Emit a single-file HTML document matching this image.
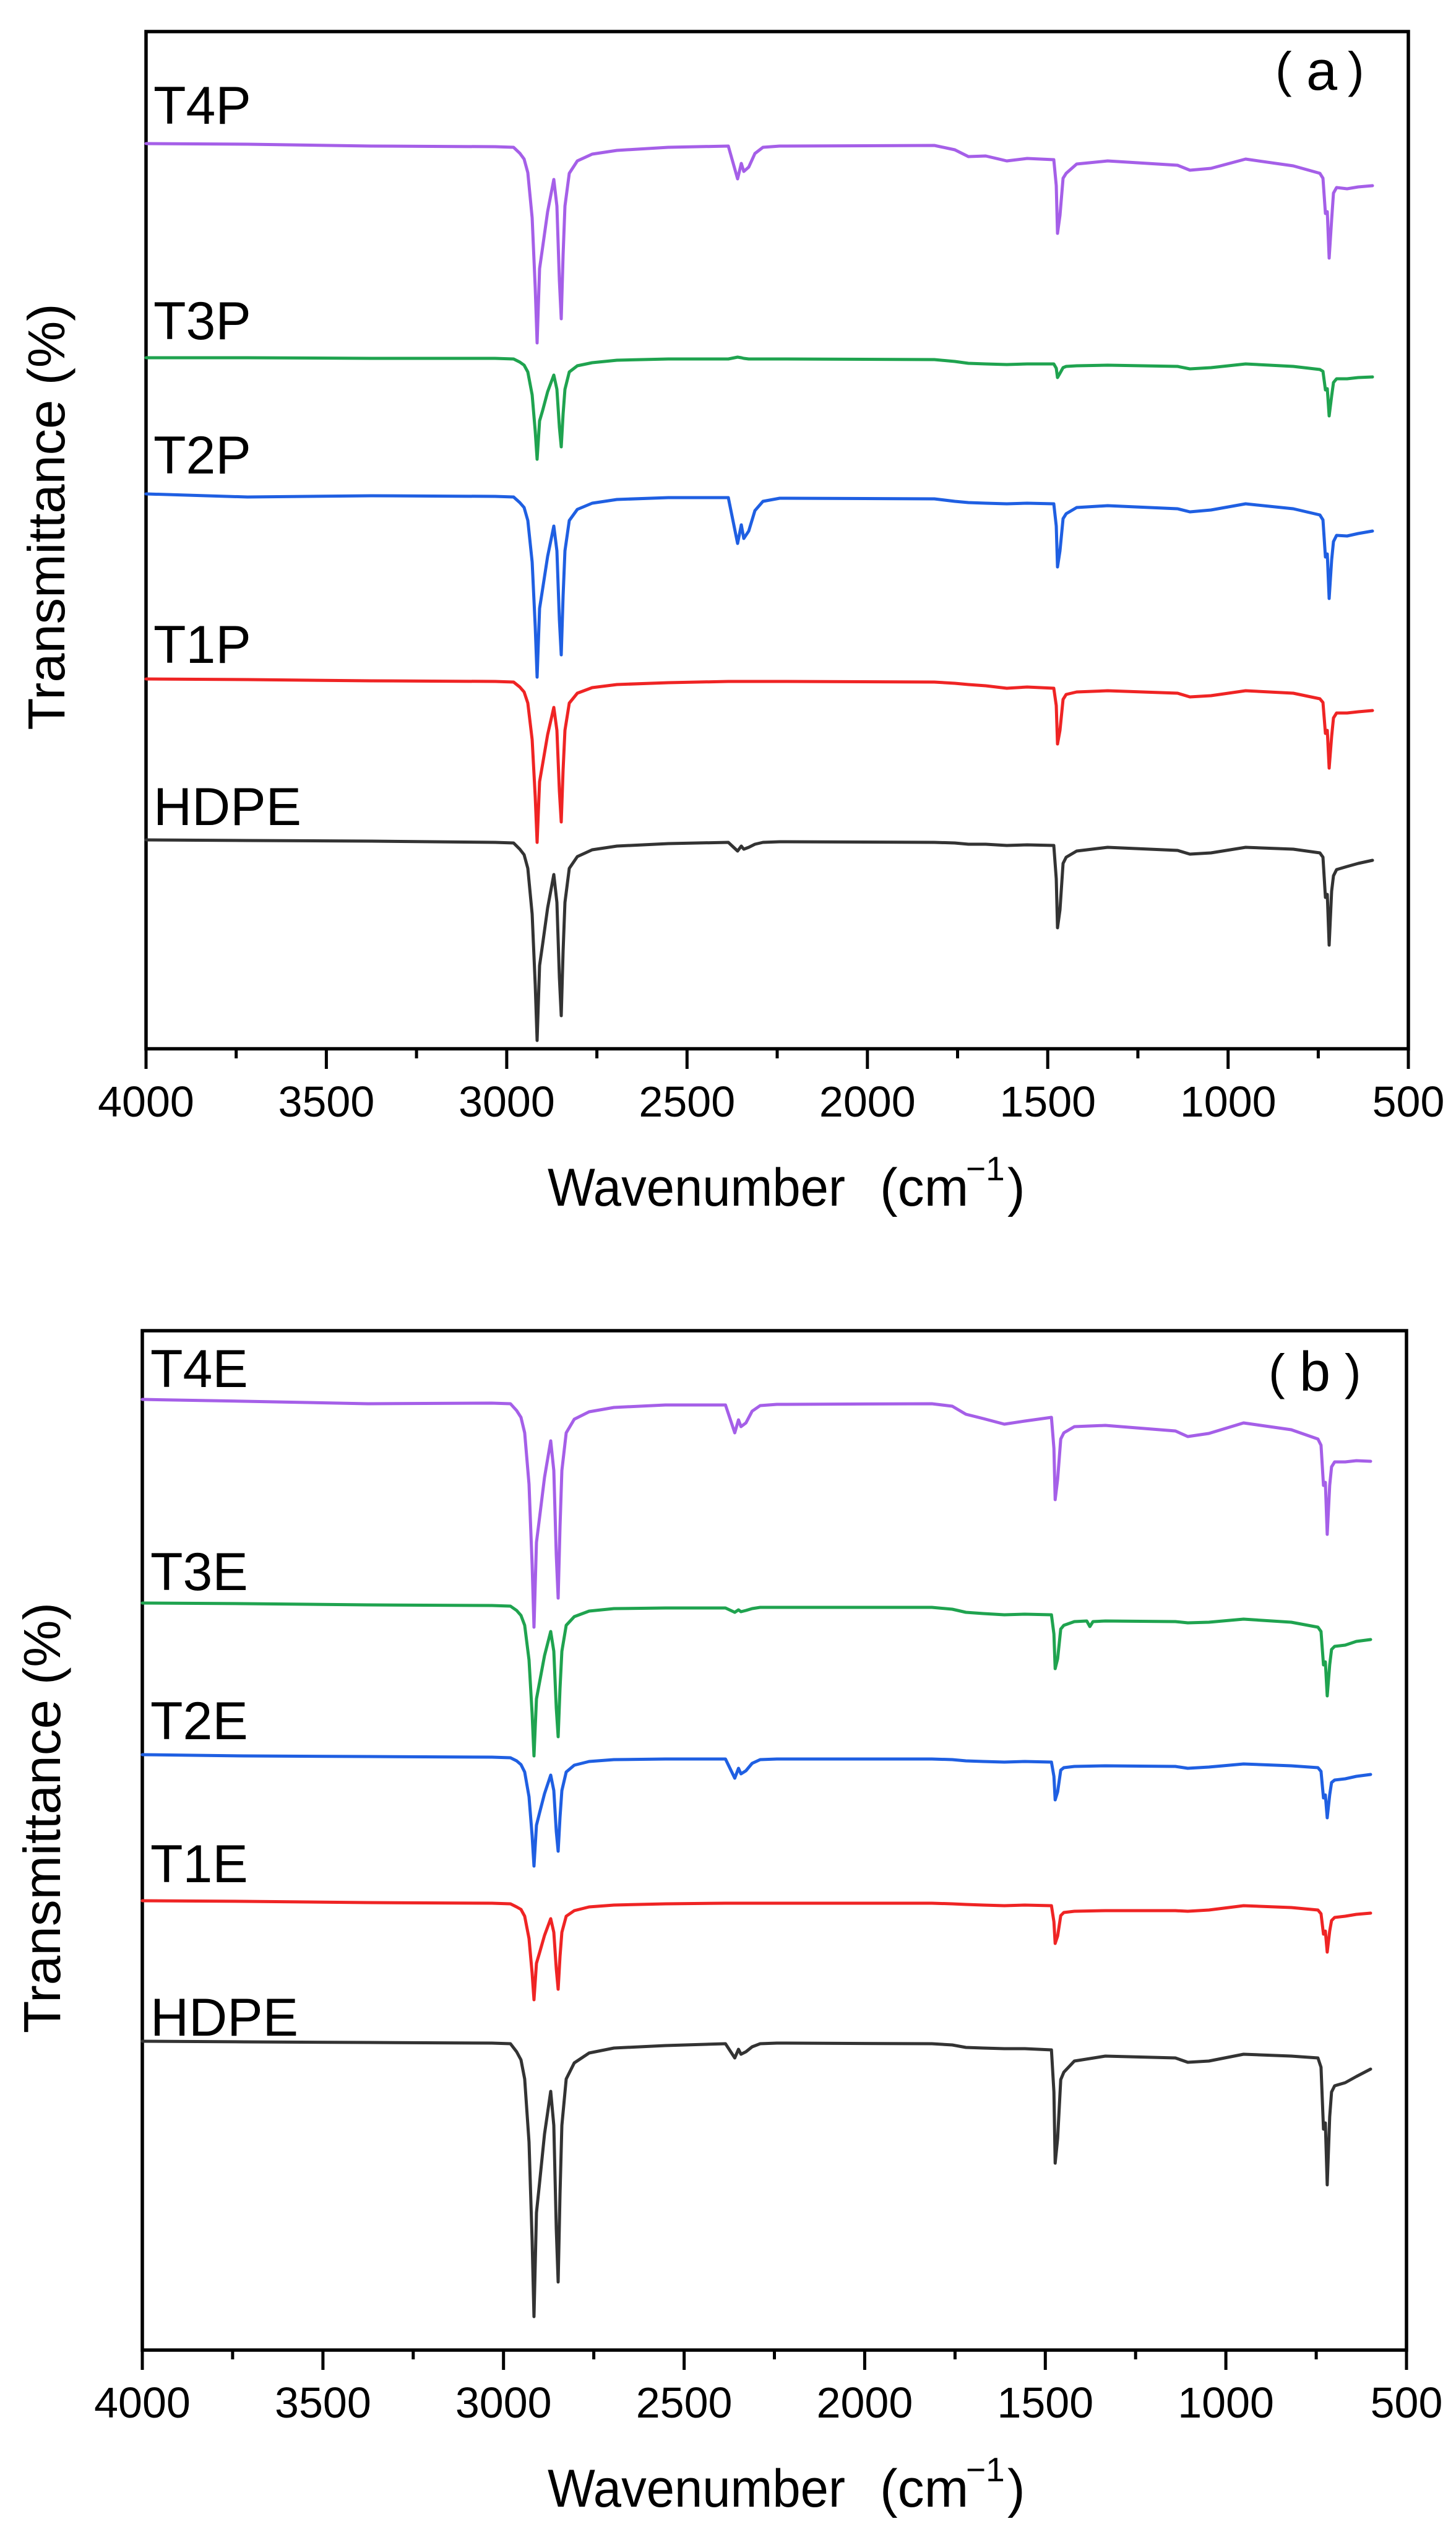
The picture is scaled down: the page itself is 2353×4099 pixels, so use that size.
<!DOCTYPE html>
<html>
<head>
<meta charset="utf-8">
<style>
html,body{margin:0;padding:0;background:#fff;}
svg{display:block;}
text{font-family:"Liberation Sans",Arial,sans-serif;fill:#000;}
.c{fill:none;stroke-width:5;stroke-linejoin:round;stroke-linecap:round;}
.ax{fill:none;stroke:#000;stroke-width:5.5;}
.tk{stroke:#000;stroke-width:5;}
.tl{font-size:70px;text-anchor:middle;}
.lb{font-size:86px;}
</style>
</head>
<body>
<svg width="2353" height="4099" viewBox="0 0 2353 4099" xmlns="http://www.w3.org/2000/svg">
<rect x="0" y="0" width="2353" height="4099" fill="#fff"/>

<!-- ================= PANEL A ================= -->
<rect class="ax" x="236" y="51" width="2040" height="1643.5"/>
<g class="tk">
<line x1="236" y1="1694" x2="236" y2="1727"/>
<line x1="527.4" y1="1694" x2="527.4" y2="1727"/>
<line x1="818.9" y1="1694" x2="818.9" y2="1727"/>
<line x1="1110.3" y1="1694" x2="1110.3" y2="1727"/>
<line x1="1401.8" y1="1694" x2="1401.8" y2="1727"/>
<line x1="1693.2" y1="1694" x2="1693.2" y2="1727"/>
<line x1="1984.7" y1="1694" x2="1984.7" y2="1727"/>
<line x1="2276" y1="1694" x2="2276" y2="1727"/>
<line x1="381.7" y1="1694" x2="381.7" y2="1710"/>
<line x1="673.1" y1="1694" x2="673.1" y2="1710"/>
<line x1="964.6" y1="1694" x2="964.6" y2="1710"/>
<line x1="1256" y1="1694" x2="1256" y2="1710"/>
<line x1="1547.5" y1="1694" x2="1547.5" y2="1710"/>
<line x1="1838.9" y1="1694" x2="1838.9" y2="1710"/>
<line x1="2130.4" y1="1694" x2="2130.4" y2="1710"/>
</g>
<text class="tl" x="236" y="1804">4000</text>
<text class="tl" x="527.4" y="1804">3500</text>
<text class="tl" x="818.9" y="1804">3000</text>
<text class="tl" x="1110.3" y="1804">2500</text>
<text class="tl" x="1401.8" y="1804">2000</text>
<text class="tl" x="1693.2" y="1804">1500</text>
<text class="tl" x="1984.7" y="1804">1000</text>
<text class="tl" x="2276" y="1804">500</text>

<text x="885" y="1948" font-size="86" textLength="481" lengthAdjust="spacingAndGlyphs">Wavenumber</text>
<text x="1422" y="1948" font-size="86">(cm</text>
<text x="1561" y="1907" font-size="55">−1</text>
<text x="1628" y="1948" font-size="86">)</text>

<text transform="translate(104,835) rotate(-90)" text-anchor="middle" font-size="84" textLength="689" lengthAdjust="spacingAndGlyphs">Transmittance (%)</text>

<text x="2061" y="140" font-size="80">(</text>
<text x="2111" y="145" font-size="90">a</text>
<text x="2178" y="140" font-size="80">)</text>

<text class="lb" x="248" y="200">T4P</text>
<text class="lb" x="248" y="548">T3P</text>
<text class="lb" x="248" y="765">T2P</text>
<text class="lb" x="248" y="1071">T1P</text>
<text class="lb" x="248" y="1333">HDPE</text>

<path class="c" stroke="#a55fe8" d="M236,232 L400,233 600,236 800,237 830,238 840,247.5 847,257 853,279 860,352 865,466 868,554 872,434 877,399 885,342 895,290 900,333 904,453 907,515 910,412 913,333 920,280 933,260 957,249 997,243 1080,238 1177,236 1192,289 1198,264 1202,277 1210,270 1220,248 1233,238 1260,236 1510,235 1543,242 1565,253 1593,252 1627,260 1660,256 1703,258 1707,300 1709,377 1713,348 1718,288 1723,280 1740,265 1790,260 1903,267 1923,275 1957,272 2013,257 2090,268 2133,280 2138,288 2142,345 2145,342 2148,417 2152,355 2155,312 2160,303 2177,305 2195,302 2218,300"/>

<path class="c" stroke="#1fa34f" d="M236,578 L400,578 600,579 800,579 830,580 840,585 847,590 853,601 860,638 865,697 868,742 872,680 877,663 885,633 895,606 900,629 904,690 907,722 910,669 913,629 920,601 933,591 957,586 997,582 1080,580 1177,580 1192,577 1198,578 1202,579 1210,580 1220,580 1233,580 1260,580 1510,581 1543,584 1565,587 1593,588 1627,589 1660,588 1703,588 1707,595 1709,610 1713,603 1718,594 1723,592 1740,591 1790,590 1903,592 1923,596 1957,594 2013,588 2090,592 2133,597 2138,600 2142,630 2145,628 2148,672 2152,640 2155,618 2160,612 2177,612 2195,610 2218,609"/>

<path class="c" stroke="#1f5fe2" d="M236,798 L400,803 600,801 800,802 830,803 840,812 847,820 853,841 860,908 865,1013 868,1094 872,983 877,951 885,899 895,850 900,890 904,1001 907,1058 910,963 913,890 920,841 933,823 957,813 997,807 1080,804 1177,804 1192,878 1198,848 1202,870 1210,858 1220,825 1233,810 1260,805 1510,806 1543,810 1565,812 1593,813 1627,814 1660,813 1703,814 1707,850 1709,916 1713,890 1718,838 1723,830 1740,820 1790,817 1903,822 1923,827 1957,824 2013,814 2090,822 2133,832 2138,840 2142,900 2145,895 2148,967 2152,905 2155,875 2160,865 2177,866 2195,862 2218,858"/>

<path class="c" stroke="#ef2424" d="M236,1097 L400,1098 600,1100 800,1101 830,1102 840,1110 847,1118 853,1136 860,1195 865,1288 868,1361 872,1263 877,1234 885,1187 895,1143 900,1180 904,1278 907,1328 910,1244 913,1180 920,1136 933,1120 957,1111 997,1106 1080,1103 1177,1101 1260,1101 1510,1102 1543,1104 1565,1106 1593,1108 1627,1112 1660,1110 1703,1112 1707,1140 1709,1202 1713,1180 1718,1130 1723,1122 1740,1118 1790,1116 1903,1120 1923,1126 1957,1124 2013,1116 2090,1120 2133,1129 2138,1135 2142,1185 2145,1180 2148,1241 2152,1190 2155,1160 2160,1152 2177,1152 2195,1150 2218,1148"/>

<path class="c" stroke="#333333" d="M236,1357 L400,1358 600,1359 800,1361 830,1362 840,1372 847,1381 853,1403 860,1477 865,1592 868,1681 872,1560 877,1525 885,1467 895,1413 900,1458 904,1579 907,1641 910,1537 913,1458 920,1403 933,1384 957,1373 997,1367 1080,1363 1177,1361 1192,1375 1198,1367 1202,1372 1210,1369 1220,1364 1233,1361 1260,1360 1510,1361 1543,1362 1565,1364 1593,1364 1627,1366 1660,1365 1703,1366 1707,1420 1709,1499 1713,1470 1718,1395 1723,1385 1740,1375 1790,1369 1903,1374 1923,1380 1957,1378 2013,1369 2090,1372 2133,1378 2138,1385 2142,1450 2145,1445 2148,1527 2152,1440 2155,1415 2160,1405 2177,1400 2195,1395 2218,1390"/>

<!-- ================= PANEL B ================= -->
<rect class="ax" x="230" y="2150" width="2043" height="1647"/>
<g class="tk">
<line x1="230" y1="3797" x2="230" y2="3829"/>
<line x1="521.9" y1="3797" x2="521.9" y2="3829"/>
<line x1="813.7" y1="3797" x2="813.7" y2="3829"/>
<line x1="1105.6" y1="3797" x2="1105.6" y2="3829"/>
<line x1="1397.4" y1="3797" x2="1397.4" y2="3829"/>
<line x1="1689.3" y1="3797" x2="1689.3" y2="3829"/>
<line x1="1981.1" y1="3797" x2="1981.1" y2="3829"/>
<line x1="2273" y1="3797" x2="2273" y2="3829"/>
<line x1="375.9" y1="3797" x2="375.9" y2="3812"/>
<line x1="667.8" y1="3797" x2="667.8" y2="3812"/>
<line x1="959.6" y1="3797" x2="959.6" y2="3812"/>
<line x1="1251.5" y1="3797" x2="1251.5" y2="3812"/>
<line x1="1543.4" y1="3797" x2="1543.4" y2="3812"/>
<line x1="1835.2" y1="3797" x2="1835.2" y2="3812"/>
<line x1="2127.1" y1="3797" x2="2127.1" y2="3812"/>
</g>
<text class="tl" x="230" y="3906">4000</text>
<text class="tl" x="521.9" y="3906">3500</text>
<text class="tl" x="813.7" y="3906">3000</text>
<text class="tl" x="1105.6" y="3906">2500</text>
<text class="tl" x="1397.4" y="3906">2000</text>
<text class="tl" x="1689.3" y="3906">1500</text>
<text class="tl" x="1981.1" y="3906">1000</text>
<text class="tl" x="2273" y="3906">500</text>

<text x="885" y="4050" font-size="86" textLength="481" lengthAdjust="spacingAndGlyphs">Wavenumber</text>
<text x="1422" y="4050" font-size="86">(cm</text>
<text x="1561" y="4009" font-size="55">−1</text>
<text x="1628" y="4050" font-size="86">)</text>

<text transform="translate(97,2937) rotate(-90)" text-anchor="middle" font-size="84" textLength="696" lengthAdjust="spacingAndGlyphs">Transmittance (%)</text>

<text x="2050" y="2244" font-size="80">(</text>
<text x="2100" y="2247" font-size="90">b</text>
<text x="2173" y="2244" font-size="80">)</text>

<text class="lb" x="243" y="2241">T4E</text>
<text class="lb" x="243" y="2569">T3E</text>
<text class="lb" x="243" y="2810">T2E</text>
<text class="lb" x="243" y="3041">T1E</text>
<text class="lb" x="243" y="3289">HDPE</text>

<g transform="matrix(1.0015 0 0 1 -6.35 0)">
<path class="c" stroke="#a55fe8" d="M236,2261 L400,2264 600,2268 800,2267 830,2268 840,2279 847,2290 853,2315 860,2398 865,2528 868,2629 872,2492 877,2452 885,2387 895,2328 900,2376 904,2513 907,2582 910,2467 913,2376 920,2315 933,2293 957,2281 997,2274 1080,2270 1177,2270 1192,2315 1198,2294 1202,2305 1210,2299 1220,2280 1233,2271 1260,2269 1510,2268 1543,2272 1565,2285 1593,2292 1627,2301 1660,2296 1703,2290 1707,2340 1709,2423 1713,2390 1718,2325 1723,2315 1740,2305 1790,2303 1903,2312 1923,2321 1957,2316 2013,2299 2090,2310 2133,2325 2138,2335 2142,2400 2145,2395 2148,2479 2152,2400 2155,2370 2160,2362 2177,2362 2195,2360 2218,2361"/>

<path class="c" stroke="#1fa34f" d="M236,2590 L400,2591 600,2593 800,2594 830,2595 840,2602 847,2610 853,2626 860,2682 865,2769 868,2837 872,2745 877,2718 885,2675 895,2636 900,2668 904,2760 907,2806 910,2728 913,2668 920,2626 933,2612 957,2603 997,2599 1080,2598 1177,2598 1192,2605 1198,2601 1202,2604 1210,2602 1220,2599 1233,2597 1260,2597 1510,2597 1543,2600 1565,2605 1593,2607 1627,2609 1660,2608 1703,2609 1707,2640 1709,2696 1713,2680 1718,2632 1723,2626 1740,2620 1760,2619 1765,2628 1770,2620 1790,2619 1903,2620 1923,2622 1957,2621 2013,2616 2090,2621 2133,2629 2138,2636 2142,2690 2145,2685 2148,2740 2152,2690 2155,2665 2160,2660 2177,2658 2195,2652 2218,2649"/>

<path class="c" stroke="#1f5fe2" d="M236,2835 L400,2837 600,2838 800,2839 830,2840 840,2845 847,2851 853,2863 860,2903 865,2966 868,3015 872,2949 877,2929 885,2898 895,2868 900,2893 904,2959 907,2991 910,2936 913,2893 920,2863 933,2852 957,2846 997,2843 1080,2842 1177,2842 1192,2873 1198,2857 1202,2866 1210,2861 1220,2849 1233,2843 1260,2842 1510,2842 1543,2843 1565,2845 1593,2846 1627,2847 1660,2846 1703,2847 1707,2870 1709,2908 1713,2895 1718,2860 1723,2856 1740,2854 1790,2853 1903,2854 1923,2857 1957,2855 2013,2850 2090,2853 2133,2856 2138,2862 2142,2905 2145,2900 2148,2937 2152,2900 2155,2880 2160,2876 2177,2874 2195,2870 2218,2867"/>

<path class="c" stroke="#ef2424" d="M236,3071 L400,3072 600,3074 800,3075 830,3076 840,3081 847,3085 853,3096 860,3132 865,3188 868,3231 872,3172 877,3155 885,3127 895,3100 900,3122 904,3181 907,3214 910,3161 913,3122 920,3096 933,3087 957,3081 997,3078 1080,3076 1177,3075 1510,3075 1543,3076 1565,3077 1593,3078 1627,3079 1660,3078 1703,3079 1707,3105 1709,3140 1713,3128 1718,3095 1723,3090 1740,3088 1790,3087 1903,3087 1923,3088 1957,3086 2013,3079 2090,3082 2133,3086 2138,3092 2142,3125 2145,3120 2148,3154 2152,3120 2155,3103 2160,3098 2177,3096 2195,3093 2218,3091"/>

<path class="c" stroke="#333333" d="M236,3298 L400,3299 600,3300 800,3301 830,3302 840,3315 847,3328 853,3359 860,3461 865,3620 868,3743 872,3575 877,3527 885,3448 895,3379 900,3434 904,3602 907,3687 910,3545 913,3434 920,3359 933,3333 957,3317 997,3309 1080,3305 1177,3302 1192,3325 1198,3311 1202,3319 1210,3315 1220,3307 1233,3302 1260,3301 1510,3302 1543,3304 1565,3308 1593,3309 1627,3310 1660,3310 1703,3312 1707,3380 1709,3495 1713,3455 1718,3360 1723,3348 1740,3330 1790,3322 1903,3325 1923,3332 1957,3330 2013,3319 2090,3322 2133,3325 2138,3340 2142,3440 2145,3430 2148,3530 2152,3420 2155,3380 2160,3370 2177,3365 2195,3355 2218,3343"/>
</g>
</svg>
</body>
</html>
